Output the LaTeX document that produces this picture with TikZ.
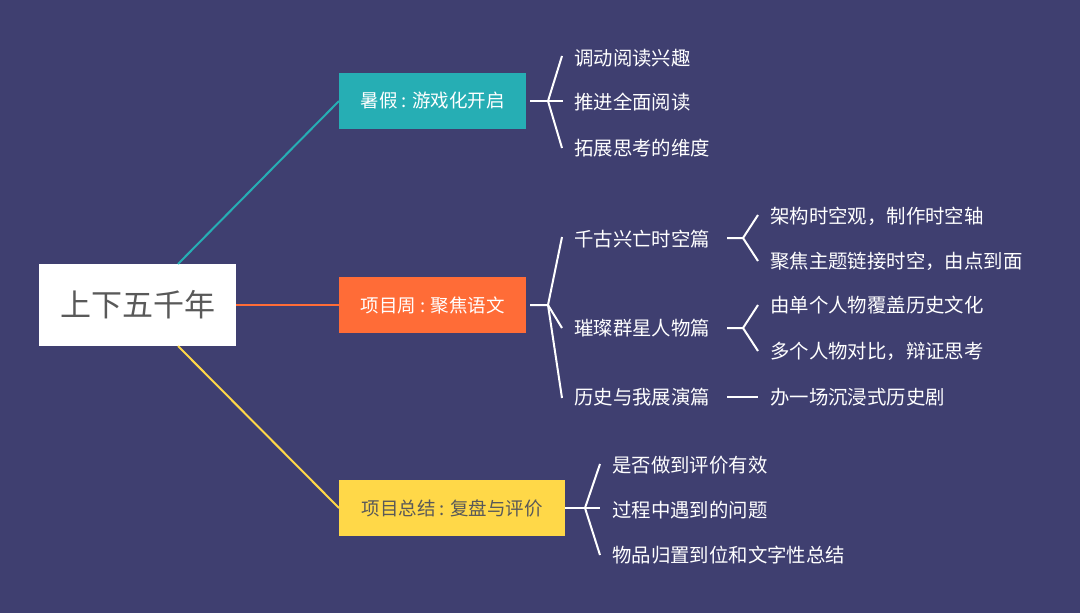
\documentclass[tikz,border=0pt]{standalone}
\usepackage{fontspec}
\setmainfont{Noto Sans CJK SC}
\begin{document}
\begin{tikzpicture}[x=1pt,y=-1pt,
 leaf/.style={anchor=west,text=white,font=\fontsize{19.4}{21}\selectfont,inner sep=0},
 box/.style={anchor=west,minimum height=56pt,inner xsep=10pt,font=\fontsize{18.5}{20}\selectfont},
 br/.style={white,line width=2pt},
 ]
\definecolor{bg}{RGB}{63,63,112}
\definecolor{teal}{RGB}{38,174,180}
\definecolor{org}{RGB}{255,108,55}
\definecolor{yel}{RGB}{255,216,72}
\definecolor{gr}{RGB}{89,89,89}
\fill[bg] (0,0) rectangle (1080,613);
\useasboundingbox (0,0) rectangle (1080,613);
\node[fill=white,minimum width=197pt,minimum height=82pt,text=gr,font=\fontsize{31}{33}\selectfont] (root) at (137.5,305) {上下五千年};
\node[box,fill=teal,text=white,minimum width=187pt] (a) at (339,101) {暑假 : 游戏化开启};
\node[box,fill=org,text=white,minimum width=187pt] (b) at (339,305) {项目周 : 聚焦语文};
\node[box,fill=yel,text=gr,minimum width=226pt] (c) at (339,508) {项目总结 : 复盘与评价};
\coordinate (r1) at (178,264);
\coordinate (r2) at (178,346);
\draw[teal,line width=2pt] (r1) -- (a.west);
\draw[org,line width=2pt] (root.east) -- (b.west);
\draw[yel,line width=2pt] (r2) -- (c.west);
% leaves
\node[leaf] (a1) at (574,58) {调动阅读兴趣};
\node[leaf] (a2) at (574,102) {推进全面阅读};
\node[leaf] (a3) at (574,148) {拓展思考的维度};
\node[leaf] (b1) at (574,239) {千古兴亡时空篇};
\node[leaf] (b2) at (574,328) {璀璨群星人物篇};
\node[leaf] (b3) at (574,397) {历史与我展演篇};
\node[leaf] (b11) at (770,216) {架构时空观，制作时空轴};
\node[leaf] (b12) at (770,261) {聚焦主题链接时空，由点到面};
\node[leaf] (b21) at (770,305) {由单个人物覆盖历史文化};
\node[leaf] (b22) at (770,351) {多个人物对比，辩证思考};
\node[leaf] (b31) at (770,397) {办一场沉浸式历史剧};
\node[leaf] (c1) at (612,465) {是否做到评价有效};
\node[leaf] (c2) at (612,510) {过程中遇到的问题};
\node[leaf] (c3) at (612,555) {物品归置到位和文字性总结};
% bracket points
\coordinate (ja) at (548,101);
\coordinate (jb) at (548,305);
\coordinate (j1) at (743,238);
\coordinate (j2) at (743,328);
\coordinate (jc) at (585,508);
\draw[br] (530,101) -- (ja) -- (563,101);
\draw[br] (ja) -- (562,56);
\draw[br] (ja) -- (562,148);
\draw[br] (530,305) -- (jb) -- (562,237);
\draw[br] (jb) -- (562,328);
\draw[br] (jb) -- (562,398);
\draw[br] (727,238) -- (j1) -- (758,215);
\draw[br] (j1) -- (758,261);
\draw[br] (727,328) -- (j2) -- (758,305);
\draw[br] (j2) -- (758,351);
\draw[br] (727,397) -- (758,397);
\draw[br] (565,508) -- (jc) -- (600,508);
\draw[br] (jc) -- (600,464);
\draw[br] (jc) -- (600,555);
\end{tikzpicture}
\end{document}
